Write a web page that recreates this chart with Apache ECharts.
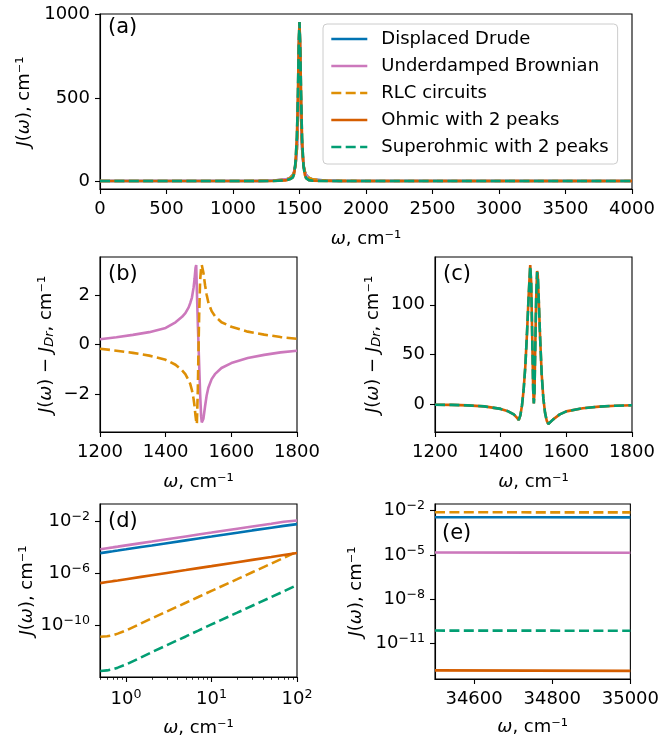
<!DOCTYPE html>
<html><head><meta charset="utf-8">
<script src="https://cdn.jsdelivr.net/npm/echarts@6/dist/echarts.min.js"></script>
<style>html,body{margin:0;padding:0;background:#fff}#c{width:662px;height:738px}</style>
</head><body><div id="c"></div>
<script>
// ---------- names / colours ----------
const seriesNames = ['Displaced Drude','Underdamped Brownian','RLC circuits','Ohmic with 2 peaks','Superohmic with 2 peaks'];
const seriesColors = ['#0173b2','#cc78bc','#de8f05','#d55e00','#029e73'];
const seriesDashed = [false,false,true,false,true];

// ---------- panel (a) : J(w) ----------
const aX       = [0,500,1000,1200,1300,1400,1430,1450,1460,1470,1480,1485,1490,1495,1500,1505,1510,1515,1520,1530,1540,1550,1570,1600,1700,1800,2000,2500,3000,3500,4000];
const aDrude   = [0.04,0.1,0.38,1.06,2.4,9.5,19.1,36.7,56,95.5,191,294,478,764,955,764,478,294,191,95.5,56,36.7,19.1,9.5,2.4,1.06,0.38,0.1,0.04,0.02,0.015];
const aUB      = [0.06,0.12,0.45,1.27,2.8,10.2,20.0,37.8,57.3,97,193,296,481,766,955,762,475,291,188.5,93.8,54.6,35.5,18.2,8.75,1.98,0.81,0.25,0.05,0.02,0.01,0.008];
const aRLC     = [0.03,0.08,0.31,0.89,2.06,8.9,18.3,35.6,54.8,94,189,292,475,761,955,767,481,297,193.4,97.2,57.4,37.9,20,10.2,2.8,1.29,0.5,0.15,0.07,0.04,0.03];
const aOhmic   = [0.03,0.05,0.13,0.36,0.7,4.0,11.5,22,44,112,262,402,618,845,956,815,612,398,240,92,37,17,5.6,1.5,0.2,0.1,0.03,0.01,0,0,0];
const aSuper   = [0.02,0.04,0.12,0.35,0.7,4.1,11.6,22,45,113,263,401,616,846,956,814,613,399,241,93,37,17,5.5,1.5,0.2,0.1,0.03,0.01,0,0,0];
const aXTicks  = [0,500,1000,1500,2000,2500,3000,3500,4000];
const aYTicks  = [0,500,1000];

// ---------- panel (b) : J - J_Dr ----------
const bX       = [1200,1250,1300,1350,1400,1430,1450,1460,1470,1475,1480,1485,1488,1491,1493,1495,1498,1500,1502,1505,1508,1510,1512,1515,1520,1525,1530,1540,1550,1570,1600,1650,1700,1750,1800];
const bUB      = [0.21,0.29,0.39,0.5,0.67,0.9,1.12,1.27,1.5,1.68,1.9,2.3,2.65,3.1,3.22,2.2,0.8,0,-0.8,-2.0,-2.9,-3.15,-3.22,-3.0,-2.5,-2.05,-1.75,-1.4,-1.2,-0.95,-0.75,-0.55,-0.42,-0.32,-0.25];
const bRLC     = [-0.17,-0.25,-0.34,-0.45,-0.62,-0.82,-1.05,-1.2,-1.45,-1.6,-1.85,-2.2,-2.5,-2.9,-3.1,-3.22,-1.8,-0.2,1.2,2.6,3.1,3.22,3.15,2.9,2.4,2.0,1.7,1.35,1.15,0.9,0.72,0.52,0.4,0.3,0.23];
const bcXTicks = [1200,1400,1600,1800];
const bYTicks  = [-2,0,2];

// ---------- panel (c) : J - J_Dr ----------
const cX       = [1200,1250,1300,1350,1400,1420,1440,1450,1455,1460,1465,1470,1475,1480,1485,1490,1493,1496,1499,1501,1503,1505,1508,1511,1513,1516,1520,1525,1530,1535,1540,1545,1550,1560,1580,1600,1650,1700,1750,1800];
const cOhmic   = [-0.3,-0.5,-1.0,-2.0,-4.5,-6.5,-10,-13.5,-15.7,-11,-1,15,38,70,108,140,122,70,15,1,12,50,105,134,130,105,68,30,6,-8,-16,-19.7,-18.5,-15,-10,-7,-3.8,-2.2,-1.3,-0.9];
const cSuper   = [-0.3,-0.5,-1.0,-2.0,-4.5,-6.5,-10,-13.5,-15.6,-11,-1,15,38,70,107,139,121,69,15,1,12,50,105,133,130,105,68,30,6,-8,-16,-19.6,-18.5,-15,-10,-7,-3.8,-2.2,-1.3,-0.9];
const cYTicks  = [0,50,100];

// ---------- panel (d) : low frequency, log-log ----------
const dX       = [0.5,0.6,0.7,0.8,1,1.5,2,3,5,7,10,20,30,50,70,100];
const dDrude   = [3.35e-5,4.0e-5,4.65e-5,5.3e-5,6.6e-5,9.9e-5,1.3e-4,1.95e-4,3.2e-4,4.45e-4,6.3e-4,1.24e-3,1.85e-3,3.0e-3,4.1e-3,5.6e-3];
const dUB      = [6.7e-5,8.0e-5,9.3e-5,1.06e-4,1.32e-4,1.97e-4,2.6e-4,3.9e-4,6.4e-4,8.9e-4,1.26e-3,2.5e-3,3.7e-3,6.0e-3,8.4e-3,1.07e-2];
const dRLC     = [1.32e-11,1.45e-11,1.75e-11,2.3e-11,4.0e-11,1.4e-10,3.4e-10,1.15e-9,5.3e-9,1.46e-8,4.3e-8,3.4e-7,1.15e-6,5.3e-6,1.46e-5,4.3e-5];
const dOhmic   = [1.7e-7,2.05e-7,2.4e-7,2.7e-7,3.4e-7,5.1e-7,6.8e-7,1.02e-6,1.7e-6,2.4e-6,3.4e-6,6.8e-6,1.02e-5,1.7e-5,2.4e-5,3.4e-5];
const dSuper   = [3.2e-14,3.5e-14,4.3e-14,5.7e-14,1.0e-13,3.5e-13,8.7e-13,3.0e-12,1.4e-11,3.9e-11,1.17e-10,9.3e-10,3.15e-9,1.46e-8,4.0e-8,1.2e-7];
const dXTicks      = [1,10,100];
const dXTickExp    = ['0','1','2'];
const dXMinorTicks = [0.5,0.6,0.7,0.8,0.9,2,3,4,5,6,7,8,9,20,30,40,50,60,70,80,90];
const dYTicks      = [1e-10,1e-6,1e-2];
const dYTickExp    = ['\u221210','\u22126','\u22122'];

// ---------- panel (e) : high frequency ----------
const eX       = [34500,34750,35000];
const eDrude   = [3.6e-3,3.55e-3,3.5e-3];
const eUB      = [1.46e-5,1.44e-5,1.42e-5];
const eRLC     = [7.8e-3,7.7e-3,7.6e-3];
const eOhmic   = [1.55e-13,1.5e-13,1.45e-13];
const eSuper   = [7.7e-11,7.6e-11,7.5e-11];
const eXTicks      = [34600,34800,35000];
const eYTicks      = [1e-11,1e-8,1e-5,1e-2];
const eYTickExp    = ['\u221211','\u22128','\u22125','\u22122'];

// ---------- build ----------
const FONT = 'DejaVu Sans';
const zip = (xs, ys) => xs.map((x, i) => [x, ys[i]]);
const fmtNum = v => (v < 0 ? '\u2212' + Math.abs(v) : String(v));
const logFmt = (ticks, exps) => v => {
  for (let i = 0; i < ticks.length; i++) if (Math.abs(Math.log10(ticks[i]) - Math.log10(v)) < 1e-6) return '10{sup|' + exps[i] + '}';
  return '';
};
const supRich = {sup: {fontSize: 12.6, fontFamily: FONT, color: '#000', verticalAlign: 'top', lineHeight: 12}};
const richStyles = {
  i: {fontStyle: 'italic', fontSize: 18, fontFamily: FONT, color: '#000'},
  s: {fontStyle: 'italic', fontSize: 13, fontFamily: FONT, color: '#000', verticalAlign: 'bottom', padding: [7, 0, 0, 0]}
};
const nameStyle = {fontSize: 18, fontFamily: FONT, color: '#000', rich: richStyles};
const xName = '{i|\u03c9}, cm\u207b\u00b9';
const jName = '{i|J}({i|\u03c9}), cm\u207b\u00b9';
const jdName = '{i|J}({i|\u03c9}) \u2212 {i|J}{s|Dr}, cm\u207b\u00b9';

function axisBase(grid, type, min, max, ticks, fmt, extra, isLog) {
  const lab = {color: '#000', fontSize: 18, fontFamily: FONT, margin: 12, customValues: ticks, formatter: fmt};
  if (isLog) { lab.rich = supRich; lab.lineHeight = 22; }
  return Object.assign({
    gridIndex: grid, type: type, min: min, max: max,
    axisLine: {show: true, onZero: false, lineStyle: {color: '#000', width: 1.1}},
    axisTick: {show: true, length: 5, lineStyle: {color: '#000', width: 1.1}, customValues: ticks},
    axisLabel: lab,
    splitLine: {show: false},
    nameTextStyle: nameStyle
  }, extra);
}
const xNameOpt = gap => ({name: xName, nameLocation: 'middle', nameGap: gap});
const yNameOpt = (n, gap) => ({name: n, nameLocation: 'middle', nameGap: gap});

const gridStyle = {show: true, borderColor: '#000', borderWidth: 1.1, containLabel: false};
const grids = [
  Object.assign({left: 100, top: 14, width: 532, height: 175}, gridStyle),
  Object.assign({left: 100, top: 257, width: 197, height: 175}, gridStyle),
  Object.assign({left: 435, top: 257, width: 197, height: 175}, gridStyle),
  Object.assign({left: 100, top: 504, width: 197, height: 175}, gridStyle),
  Object.assign({left: 435, top: 504, width: 197, height: 175}, gridStyle)
];

const xAxes = [
  axisBase(0, 'value', 0, 4000, aXTicks, fmtNum, xNameOpt(41)),
  axisBase(1, 'value', 1200, 1800, bcXTicks, fmtNum, xNameOpt(41)),
  axisBase(2, 'value', 1200, 1800, bcXTicks, fmtNum, xNameOpt(41)),
  axisBase(3, 'log', 0.496, 100, dXTicks, logFmt(dXTicks, dXTickExp), xNameOpt(42), true),
  axisBase(4, 'value', 34500, 35000, eXTicks, fmtNum, xNameOpt(39)),
  // minor ticks of the log x axis in (d)
  {gridIndex: 3, type: 'log', min: 0.496, max: 100, position: 'bottom',
   axisLine: {show: false, onZero: false}, axisLabel: {show: false}, splitLine: {show: false},
   axisTick: {show: true, length: 2.8, lineStyle: {color: '#000', width: 0.8}, customValues: dXMinorTicks}}
];
xAxes.forEach(a => { if (a.axisLabel && a.axisLabel.margin) a.axisLabel.margin = 11; });
const yAxes = [
  axisBase(0, 'value', -47.8, 1003.8, aYTicks, fmtNum, yNameOpt(jName, 62)),
  axisBase(1, 'value', -3.54, 3.54, bYTicks, fmtNum, yNameOpt(jdName, 44)),
  axisBase(2, 'value', -27.7, 148, cYTicks, fmtNum, yNameOpt(jdName, 52)),
  axisBase(3, 'log', Math.pow(10, -13.96), Math.pow(10, -0.71), dYTicks, logFmt(dYTicks, dYTickExp), yNameOpt(jName, 64), true),
  axisBase(4, 'log', Math.pow(10, -13.39), Math.pow(10, -1.55), eYTicks, logFmt(eYTicks, eYTickExp), yNameOpt(jName, 70), true)
];
yAxes.forEach(a => { a.axisLabel.margin = 10; });

function mkSeries(idx, panel, xs, ys) {
  return {
    type: 'line', name: seriesNames[idx], xAxisIndex: panel, yAxisIndex: panel,
    data: zip(xs, ys), showSymbol: false, symbol: 'none', silent: true,
    lineStyle: {color: seriesColors[idx], width: 2.6, type: seriesDashed[idx] ? [10, 4.4] : 'solid', cap: 'butt'},
    itemStyle: {color: seriesColors[idx]},
    emphasis: {disabled: true}
  };
}
const series = [
  mkSeries(0, 0, aX, aDrude), mkSeries(1, 0, aX, aUB), mkSeries(2, 0, aX, aRLC), mkSeries(3, 0, aX, aOhmic), mkSeries(4, 0, aX, aSuper),
  mkSeries(1, 1, bX, bUB), mkSeries(2, 1, bX, bRLC),
  mkSeries(3, 2, cX, cOhmic), mkSeries(4, 2, cX, cSuper),
  mkSeries(0, 3, dX, dDrude), mkSeries(1, 3, dX, dUB), mkSeries(2, 3, dX, dRLC), mkSeries(3, 3, dX, dOhmic), mkSeries(4, 3, dX, dSuper),
  mkSeries(0, 4, eX, eDrude), mkSeries(1, 4, eX, eUB), mkSeries(2, 4, eX, eRLC), mkSeries(3, 4, eX, eOhmic), mkSeries(4, 4, eX, eSuper)
];

const panelLabels = [['(a)', 108, 28], ['(b)', 108, 275], ['(c)', 443, 275], ['(d)', 108, 522], ['(e)', 442, 534]];

const chart = echarts.init(document.getElementById('c'), null, {renderer: 'canvas'});
chart.setOption({
  animation: false,
  backgroundColor: '#ffffff',
  textStyle: {fontFamily: FONT},
  grid: grids,
  xAxis: xAxes,
  yAxis: yAxes,
  legend: {
    orient: 'vertical', left: 323, top: 24, padding: [6, 9, 8, 7],
    itemWidth: 36, itemHeight: 18, itemGap: 9, selectedMode: false,
    backgroundColor: 'rgba(255,255,255,0.8)', borderColor: '#cccccc', borderWidth: 1, borderRadius: 4,
    textStyle: {fontSize: 18, fontFamily: FONT, color: '#000', padding: [0, 0, 0, 9], lineHeight: 18},
    itemStyle: {opacity: 0},
    lineStyle: {width: 2.6},
    data: seriesNames
  },
  graphic: panelLabels.map(p => ({
    type: 'text', x: p[1], y: p[2], z: 100,
    style: {text: p[0], fontSize: 21, fontFamily: FONT, fill: '#000', verticalAlign: 'middle', align: 'left'}
  })),
  series: series
});
</script></body></html>
